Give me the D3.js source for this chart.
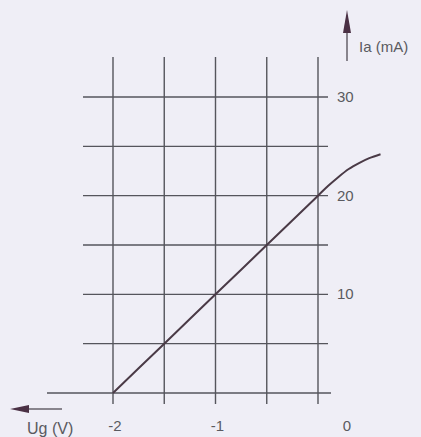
<!DOCTYPE html>
<html lang="en">
<head>
	<meta charset="UTF-8">
	<title>tube characteristic</title>
	<style>
		body { margin: 0; background: #efeef6; }
		svg { display: block; }
		text { font-family: "Liberation Sans", Arial, sans-serif; fill: #5a5a60; }
	</style>
</head>
<body>

	<div id="viz-wrapper"></div>

	<script src="https://cdn.jsdelivr.net/npm/d3@7/dist/d3.min.js"></script>

	<script type="text/javascript">
    // grid voltage (V) and anode current (mA) of the curve
    var ugValues = [-2, -1.5, -1, -0.5, 0, 0.1, 0.2, 0.3, 0.4, 0.5, 0.61];
    var iaValues = [0, 5, 10, 15, 20, 21.0, 21.9, 22.7, 23.3, 23.8, 24.2];

    // grid lines
    var ugGrid = [-2, -1.5, -1, -0.5, 0];
    var iaGrid = [5, 10, 15, 20, 25, 30];

    // tick labels
    var ugTicks = [-2, -1, 0];
    var iaTicks = [10, 20, 30];

    var width = 421,
        height = 437;

    var x = d3.scaleLinear().domain([-2, 0]).range([113, 318]);
    var y = d3.scaleLinear().domain([0, 30]).range([393, 97]);

    // the y arrow sits right of the grid, "0" label under it
    var yAxisX = 347;

    var viz = d3.select("#viz-wrapper")
                .append('svg')
                .attr('width', width)
                .attr('height', height);

    var grid = viz.append('g')
                  .attr('stroke', '#55555c')
                  .attr('stroke-width', 1.4);

    // vertical grid lines
    grid.selectAll('line.v')
        .data(ugGrid)
        .enter()
        .append('line')
        .attr('class', 'v')
        .attr('x1', function(d) { return x(d) })
        .attr('x2', function(d) { return x(d) })
        .attr('y1', 57)
        .attr('y2', 404);

    // horizontal grid lines
    grid.selectAll('line.h')
        .data(iaGrid)
        .enter()
        .append('line')
        .attr('class', 'h')
        .attr('x1', 83)
        .attr('x2', 328)
        .attr('y1', function(d) { return y(d) })
        .attr('y2', function(d) { return y(d) });

    // bottom axis line
    grid.append('line')
        .attr('x1', 47).attr('x2', 331)
        .attr('y1', y(0)).attr('y2', y(0));

    // the curve
    var line = d3.line()
                 .x(function(d, i) { return x(d) })
                 .y(function(d, i) { return y(iaValues[i]) })
                 .curve(d3.curveMonotoneX);

    viz.append('path')
       .datum(ugValues)
       .attr('d', line)
       .attr('fill', 'none')
       .attr('stroke', '#4a3a46')
       .attr('stroke-width', 2);

    // arrows
    var arrowCol = '#4a3044';
    viz.append('line')
       .attr('x1', yAxisX).attr('x2', yAxisX)
       .attr('y1', 30).attr('y2', 61)
       .attr('stroke', '#66606a').attr('stroke-width', 1.5);
    viz.append('path')
       .attr('d', 'M' + yAxisX + ',10 L' + (yAxisX - 4) + ',33 L' + (yAxisX + 4) + ',33 Z')
       .attr('fill', arrowCol);

    viz.append('line')
       .attr('x1', 26).attr('x2', 62)
       .attr('y1', 409).attr('y2', 409)
       .attr('stroke', '#66606a').attr('stroke-width', 1.5);
    viz.append('path')
       .attr('d', 'M10,409 L29,405 L29,413 Z')
       .attr('fill', arrowCol);

    // y tick labels
    viz.selectAll('text.yt')
       .data(iaTicks)
       .enter()
       .append('text')
       .attr('class', 'yt')
       .attr('x', 337)
       .attr('y', function(d) { return y(d) + 5 })
       .style('font-size', '15px')
       .text(function(d) { return d });

    // x tick labels
    viz.selectAll('text.xt')
       .data(ugTicks)
       .enter()
       .append('text')
       .attr('class', 'xt')
       .attr('x', function(d) { return d === 0 ? yAxisX : x(d) + 2 })
       .attr('y', 431)
       .attr('text-anchor', 'middle')
       .style('font-size', '15px')
       .text(function(d) { return d });

    // axis titles
    viz.append('text')
       .attr('x', 359).attr('y', 52)
       .style('font-size', '15px')
       .text('Ia (mA)');

    viz.append('text')
       .attr('x', 27).attr('y', 434)
       .style('font-size', '16px')
       .text('Ug (V)');
 	</script>

</body>
</html>
